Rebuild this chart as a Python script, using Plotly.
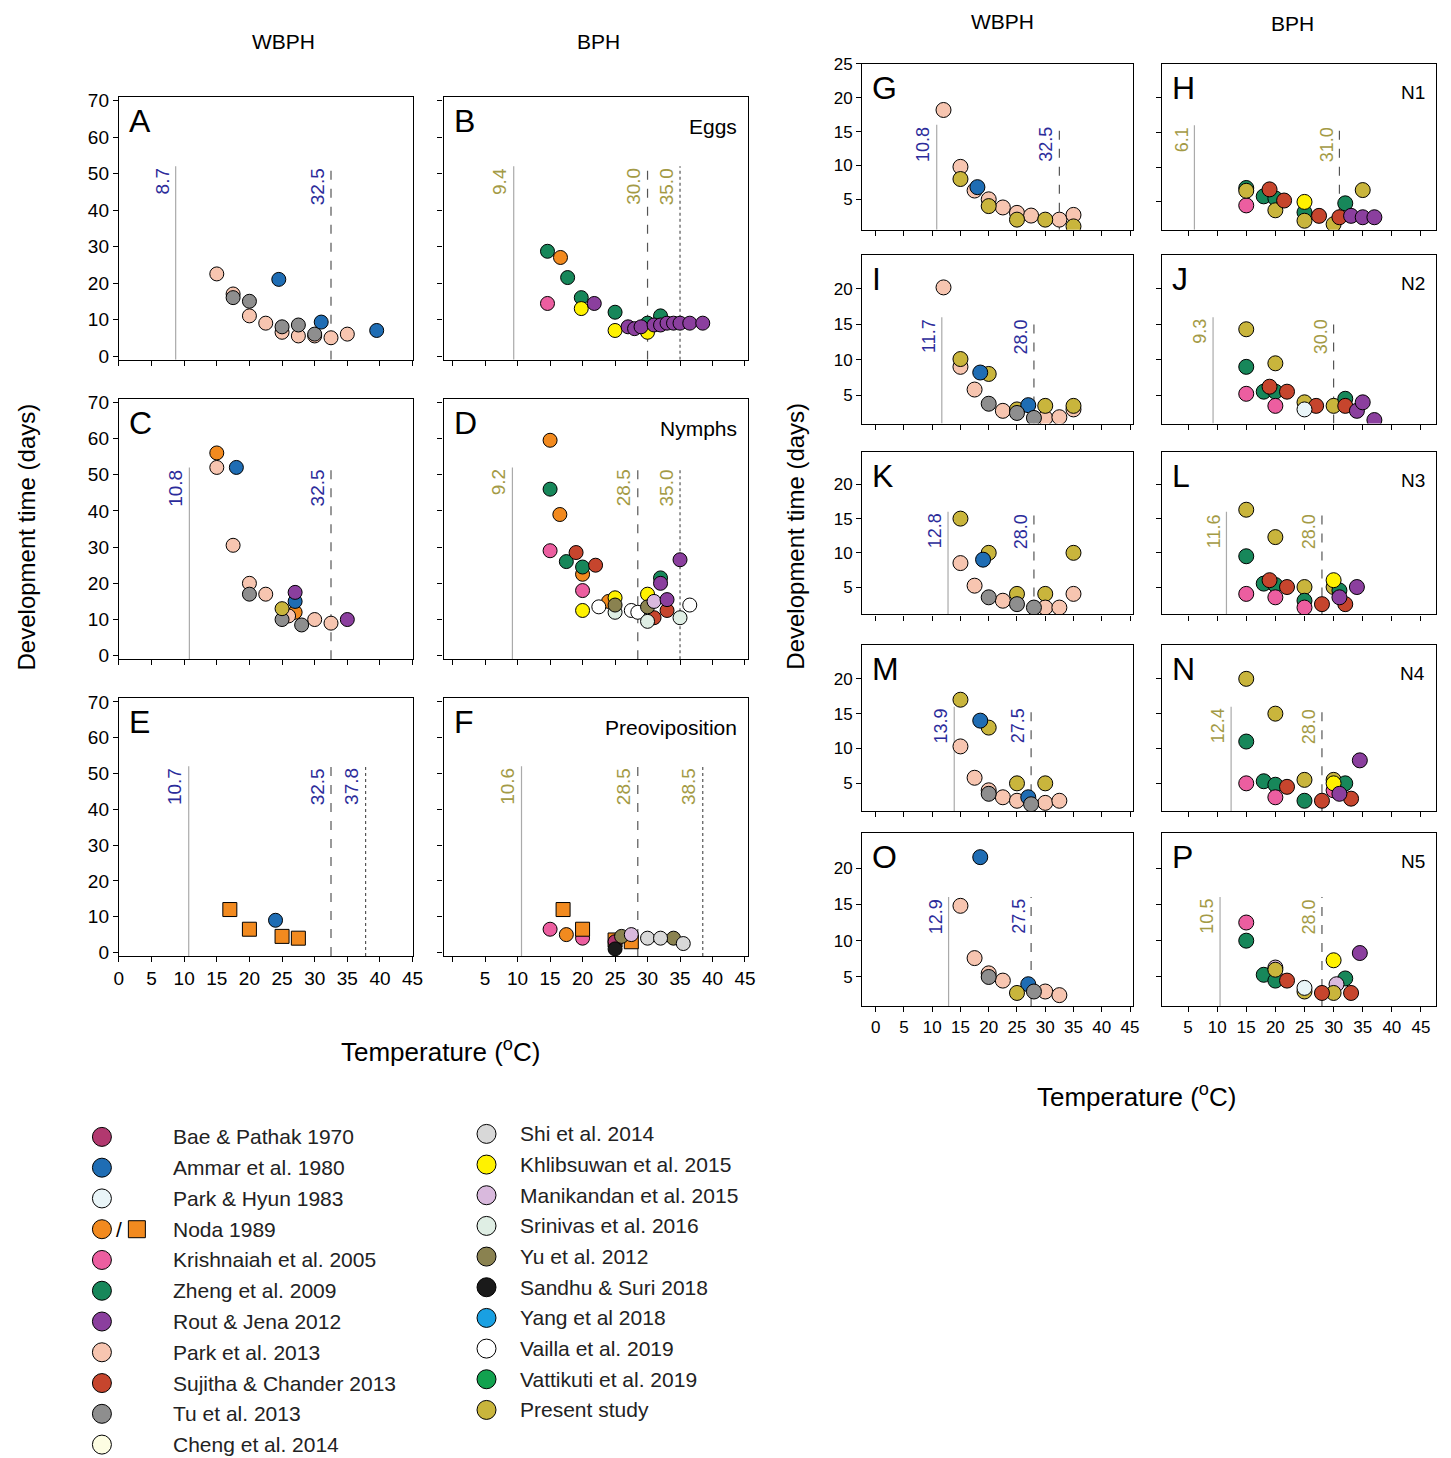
import plotly.graph_objects as go

W, H = 1451, 1458
FONT = "Liberation Sans, Arial, sans-serif"
BLUE_T = "#2b2b9a"
OLIVE_T = "#a39a45"

series_names = ["Bae & Pathak 1970", "Ammar et al. 1980", "Park & Hyun 1983", "Noda 1989",
                "Krishnaiah et al. 2005", "Zheng et al. 2009", "Rout & Jena 2012", "Park et al. 2013",
                "Sujitha & Chander 2013", "Tu et al. 2013", "Cheng et al. 2014",
                "Shi et al. 2014", "Khlibsuwan et al. 2015", "Manikandan et al. 2015", "Srinivas et al. 2016",
                "Yu et al. 2012", "Sandhu & Suri 2018", "Yang et al 2018", "Vailla et al. 2019",
                "Vattikuti et al. 2019", "Present study"]
series_keys = ["bae", "ammar", "hyun", "noda", "krish", "zheng", "rout", "park", "suj", "tu", "cheng",
               "shi", "khl", "mani", "sri", "yu", "sandhu", "yang", "vailla", "vatt", "present"]
series_colors = ["#b2386f", "#1f6db4", "#e9f5f8", "#f28a1f", "#ec5ea0", "#17875a", "#8b3f9e", "#f7c5b0",
                 "#c6452d", "#8e8e8e", "#fdfde2", "#d8d8d8", "#fff200", "#d9b9dd", "#dfeee4",
                 "#8a8250", "#1a1a1a", "#19a0e2", "#ffffff", "#12a24f", "#c9b53c"]
COL = dict(zip(series_keys, series_colors))

# panel data: (series, temperature, days[, "sq"])
pA = [("park", 15, 22.5), ("park", 17.5, 17), ("park", 20, 11), ("park", 22.5, 9), ("park", 25, 6.5),
      ("park", 27.5, 5.5), ("park", 30, 5.5), ("park", 32.5, 5), ("park", 35, 6),
      ("tu", 17.5, 16), ("tu", 20, 15), ("tu", 25, 8), ("tu", 27.5, 8.5), ("tu", 30, 6),
      ("ammar", 24.5, 21), ("ammar", 31, 9.3), ("ammar", 39.5, 7)]
pB = [("zheng", 14.6, 28.7), ("noda", 16.6, 27), ("zheng", 17.7, 21.5), ("krish", 14.6, 14.4),
      ("zheng", 19.8, 16), ("khl", 19.8, 13), ("rout", 21.8, 14.4), ("zheng", 25, 12), ("khl", 25, 7),
      ("rout", 27, 8), ("rout", 28, 7.5), ("rout", 29, 8), ("rout", 31, 8.5), ("rout", 32, 8.5),
      ("rout", 33, 9), ("rout", 34, 9), ("rout", 35, 9), ("rout", 36.5, 9), ("rout", 38.5, 9),
      ("zheng", 32, 11), ("zheng", 30, 9), ("khl", 30, 6.5)]
pC = [("noda", 15, 56), ("park", 15, 52), ("ammar", 18, 52), ("park", 17.5, 30.5), ("park", 20, 20),
      ("tu", 20, 17), ("park", 22.5, 17), ("rout", 27, 17.5), ("ammar", 27, 15), ("present", 25, 13),
      ("tu", 25, 10), ("noda", 27, 12), ("park", 26, 11), ("park", 30, 10), ("tu", 28, 8.5),
      ("park", 32.5, 9), ("rout", 35, 10)]
pD = [("noda", 15, 59.5), ("zheng", 15, 46), ("noda", 16.5, 39), ("krish", 15, 29), ("suj", 19, 28.5),
      ("zheng", 17.5, 26), ("noda", 20, 22.5), ("zheng", 20, 24.5), ("suj", 22, 25), ("krish", 20, 18),
      ("khl", 20, 12.5), ("vailla", 22.5, 13.5), ("noda", 24, 15), ("khl", 25, 16), ("sri", 25, 12),
      ("yu", 25, 14), ("vailla", 27.5, 12.5), ("vailla", 28.5, 12), ("khl", 30, 17), ("sri", 30, 9.5),
      ("yu", 30, 13.5), ("suj", 31, 10.5), ("mani", 31, 15), ("rout", 32, 20), ("zheng", 32, 21.5),
      ("rout", 33, 15.5), ("suj", 33, 12.5), ("rout", 35, 26.5), ("sri", 35, 10.5), ("vailla", 36.5, 14)]
pE = [("noda", 17, 12, "sq"), ("noda", 20, 6.5, "sq"), ("noda", 25, 4.5, "sq"), ("noda", 27.5, 4, "sq"),
      ("ammar", 24, 9)]
pF = [("krish", 15, 6.5), ("noda", 17, 12, "sq"), ("noda", 17.5, 5), ("noda", 20, 6.5, "sq"),
      ("krish", 20, 4), ("bae", 25, 3), ("noda", 25, 3.5, "sq"), ("yu", 26, 4.5), ("noda", 27.5, 3, "sq"),
      ("mani", 27.5, 5), ("shi", 30, 4), ("shi", 32, 4), ("yu", 34, 4), ("shi", 35.5, 2.5),
      ("sandhu", 25, 1)]
pG = [("park", 12, 18.2), ("park", 15, 9.8), ("present", 15, 8), ("ammar", 18, 6.8), ("park", 17.5, 6.3),
      ("park", 20, 5), ("present", 20, 4), ("park", 22.5, 3.8), ("park", 25, 3), ("present", 25, 2),
      ("park", 27.5, 2.6), ("present", 30, 2), ("park", 32.5, 2), ("park", 35, 2.7), ("present", 35, 1)]
pH = [("krish", 15, 4.5), ("zheng", 15, 7), ("present", 15, 6.6), ("suj", 19, 6.8), ("zheng", 18, 5.8),
      ("zheng", 20, 5.5), ("present", 20, 3.8), ("suj", 21.5, 5.2), ("khl", 25, 5), ("zheng", 25, 3.5),
      ("present", 25, 2.3), ("suj", 27.5, 3), ("present", 30, 1.8), ("zheng", 32, 4.8), ("suj", 31, 2.8),
      ("rout", 33, 3), ("rout", 35, 2.8), ("rout", 37, 2.8), ("present", 35, 6.7)]
pI = [("park", 12, 20.2), ("present", 15, 10.1), ("park", 15, 9), ("ammar", 18.5, 8.2), ("present", 20, 8),
      ("park", 17.5, 5.8), ("tu", 20, 3.8), ("park", 22.5, 2.8), ("tu", 25, 2.5), ("present", 25, 3),
      ("ammar", 27, 3.6), ("tu", 28, 1.8), ("present", 30, 3.5), ("park", 30, 1.8), ("park", 32.5, 1.9),
      ("park", 35, 3), ("present", 35, 3.5)]
pJ = [("present", 15, 14.3), ("zheng", 15, 9), ("krish", 15, 5.2), ("present", 20, 9.5), ("suj", 19, 6.2),
      ("zheng", 18, 5.5), ("krish", 20, 3.5), ("zheng", 20, 5.5), ("suj", 22, 5.5), ("hyun", 25, 3),
      ("present", 25, 4), ("suj", 27, 3.5), ("present", 30, 3.5), ("zheng", 32, 4.5), ("suj", 32, 3.5),
      ("rout", 34, 2.8), ("rout", 35, 4), ("rout", 37, 1.5)]
pK = [("present", 15, 15), ("park", 15, 8.5), ("ammar", 19, 9), ("present", 20, 10), ("park", 17.5, 5.2),
      ("tu", 20, 3.5), ("park", 22.5, 3), ("tu", 25, 2.5), ("present", 25, 4), ("tu", 28, 2),
      ("present", 30, 4), ("park", 30, 2), ("park", 32.5, 2), ("park", 35, 4), ("present", 35, 10)]
pL = [("present", 15, 16.3), ("zheng", 15, 9.5), ("krish", 15, 4), ("present", 20, 12.3), ("suj", 19, 6),
      ("zheng", 18, 5.5), ("zheng", 20, 5.3), ("krish", 20, 3.5), ("suj", 22, 5), ("present", 25, 5),
      ("zheng", 25, 3), ("krish", 25, 2), ("suj", 28, 2.5), ("khl", 30, 6), ("present", 30, 5),
      ("rout", 31, 3.5), ("zheng", 31, 4.5), ("suj", 32, 2.5), ("rout", 34, 5)]
pM = [("present", 15, 17), ("park", 15, 10.3), ("ammar", 18.5, 14), ("present", 20, 13), ("park", 17.5, 5.8),
      ("park", 20, 4), ("tu", 20, 3.5), ("park", 22.5, 3), ("park", 25, 2.5), ("present", 25, 5),
      ("ammar", 27, 3), ("tu", 27.5, 2), ("present", 30, 5), ("park", 30, 2.2), ("park", 32.5, 2.5)]
pN = [("present", 15, 20), ("zheng", 15, 11), ("krish", 15, 5), ("present", 20, 15), ("zheng", 18, 5.3),
      ("zheng", 20, 4.8), ("krish", 20, 3), ("suj", 22, 4.5), ("present", 25, 5.5), ("zheng", 25, 2.5),
      ("suj", 28, 2.5), ("present", 30, 5.5), ("khl", 30, 5), ("krish", 30, 4), ("rout", 31, 3.5),
      ("zheng", 32, 5), ("suj", 33, 2.8), ("rout", 34.5, 8.3)]
pO = [("ammar", 18.5, 21.5), ("park", 15, 14.8), ("park", 17.5, 7.6), ("park", 20, 5.5), ("tu", 20, 5),
      ("park", 22.5, 4.5), ("present", 25, 2.8), ("ammar", 27, 4), ("tu", 28, 3), ("park", 30, 3),
      ("park", 32.5, 2.5)]
pP = [("krish", 15, 12.5), ("zheng", 15, 10), ("zheng", 18, 5.3), ("mani", 20, 6.3), ("present", 20, 6),
      ("krish", 20, 5), ("zheng", 20, 4.5), ("suj", 22, 4.5), ("hyun", 25, 3.5), ("present", 25, 3),
      ("suj", 28, 2.8), ("khl", 30, 7.3), ("mani", 30.5, 4), ("present", 30, 2.8), ("zheng", 32, 4.8),
      ("suj", 33, 2.8), ("rout", 34.5, 8.3)]

thresholds = {
    "A": [(8.7, "solid"), (32.5, "dash")], "B": [(9.4, "solid"), (30.0, "dash"), (35.0, "dot")],
    "C": [(10.8, "solid"), (32.5, "dash")], "D": [(9.2, "solid"), (28.5, "dash"), (35.0, "dot")],
    "E": [(10.7, "solid"), (32.5, "dash"), (37.8, "dot")], "F": [(10.6, "solid"), (28.5, "dash"), (38.5, "dot")],
    "G": [(10.8, "solid"), (32.5, "dash")], "H": [(6.1, "solid"), (31.0, "dash")],
    "I": [(11.7, "solid"), (28.0, "dash")], "J": [(9.3, "solid"), (30.0, "dash")],
    "K": [(12.8, "solid"), (28.0, "dash")], "L": [(11.6, "solid"), (28.0, "dash")],
    "M": [(13.9, "solid"), (27.5, "dash")], "N": [(12.4, "solid"), (28.0, "dash")],
    "O": [(12.9, "solid"), (27.5, "dash")], "P": [(10.5, "solid"), (28.0, "dash")],
}
stage_labels = {"B": "Eggs", "D": "Nymphs", "F": "Preoviposition", "H": "N1", "J": "N2", "L": "N3",
                "N": "N4", "P": "N5"}

# panel boxes in pixels: letter -> (x0, x1, y0, y1, data, wbph, big)
panels = {
    "A": (118, 412, 95, 358, pA, True, True), "B": (443, 748, 95, 358, pB, False, True),
    "C": (118, 412, 397, 658, pC, True, True), "D": (443, 748, 397, 658, pD, False, True),
    "E": (118, 412, 697, 955, pE, True, True), "F": (443, 748, 697, 955, pF, False, True),
    "G": (862, 1133, 62, 228, pG, True, False), "H": (1162, 1436, 62, 228, pH, False, False),
    "I": (862, 1133, 253, 422, pI, True, False), "J": (1162, 1436, 253, 422, pJ, False, False),
    "K": (862, 1133, 450, 613, pK, True, False), "L": (1162, 1436, 450, 613, pL, False, False),
    "M": (862, 1133, 644, 810, pM, True, False), "N": (1162, 1436, 644, 810, pN, False, False),
    "O": (862, 1133, 832, 1005, pO, True, False), "P": (1162, 1436, 832, 1005, pP, False, False),
}
bottom_row = {"E", "F", "O", "P"}


# pixel -> paper, with a small correction for the page offset
def PX(px):
    return (px - 12) / 0.99 / W


def PY(py):
    return 1 - (py - 15) / 0.99 / H


fig = go.Figure()


def ax_names(i):
    s = "" if i == 1 else str(i)
    return "xaxis" + s, "yaxis" + s, "x" + s, "y" + s


for i, (L, (x0, x1, y0, y1, data, wbph, big)) in enumerate(panels.items(), start=1):
    xa, ya, xr, yr = ax_names(i)
    if big:
        xrange = [0, 45] if wbph else [-1.4, 45.5]
        yrange, ytick, ytop = [-1, 71], list(range(0, 71, 10)), 52
    else:
        xrange = [-2.4, 45.5] if wbph else [0.5, 47.5]
        if L == "G":
            yrange, ytick = [0.5, 25], [5, 10, 15, 20, 25]
        else:
            yrange, ytick = [1, 24.8], [5, 10, 15, 20]
        ytop = 16
    xticks = list(range(0, 46, 5))
    xlabels = [str(v) if (L in bottom_row and (wbph or v > 0)) else " " for v in xticks]
    ylabels = [str(v) for v in ytick] if wbph else [" " for _ in ytick]
    common = dict(showline=True, linecolor="black", linewidth=1.2, mirror=True, showgrid=False,
                  zeroline=False, ticks="outside", ticklen=5, tickcolor="black",
                  tickfont=dict(size=19 if big else 17, family=FONT, color="black"))
    fig.layout[xa] = dict(domain=[PX(x0), PX(x1)], range=xrange, anchor=yr, tickmode="array",
                          tickvals=xticks, ticktext=xlabels, **common)
    fig.layout[ya] = dict(domain=[PY(y1), PY(y0)], range=yrange, anchor=xr, tickmode="array",
                          tickvals=ytick, ticktext=ylabels, **common)

    tcol = BLUE_T if wbph else OLIVE_T
    for val, dash in thresholds[L]:
        fig.add_trace(go.Scatter(x=[val, val], y=[yrange[0], ytop], mode="lines", xaxis=xr, yaxis=yr,
                                 line=dict(color="#555555" if dash != "solid" else "#aaaaaa",
                                           width=1.2, dash=dash), showlegend=False, hoverinfo="skip"))
        fig.add_annotation(x=val, y=ytop, xref=xr, yref=yr, text=f"{val:.1f}", textangle=-90,
                           xanchor="right", yanchor="top", xshift=-1, showarrow=False,
                           font=dict(size=19 if big else 18, color=tcol, family=FONT))

    for key in dict.fromkeys(p[0] for p in data):
        for sym in ("circle", "square"):
            pts = [p for p in data if p[0] == key and (("sq" in p[3:]) == (sym == "square"))]
            if not pts:
                continue
            fig.add_trace(go.Scatter(x=[p[1] for p in pts], y=[p[2] for p in pts], mode="markers",
                                     xaxis=xr, yaxis=yr, showlegend=False,
                                     marker=dict(symbol=sym, size=14 if big else 15, color=COL[key],
                                                 line=dict(color="black", width=1))))

    fig.add_annotation(x=PX(x0 + 8), y=PY(y0 + 4), xref="paper", yref="paper", text=L,
                       xanchor="left", yanchor="top", showarrow=False,
                       font=dict(size=32, family=FONT, color="black"))
    if L in stage_labels:
        fig.add_annotation(x=PX(x1 - 9), y=PY(y0 + 16), xref="paper", yref="paper",
                           text=stage_labels[L], xanchor="right", yanchor="top", showarrow=False,
                           font=dict(size=21 if big else 19, family=FONT, color="black"))


def legend_mark(px, py, color, kind="circle", size=19):
    fig.add_shape(type=kind, xref="paper", yref="paper", xsizemode="pixel", ysizemode="pixel",
                  xanchor=PX(px), yanchor=PY(py), x0=-size / 2, x1=size / 2, y0=-size / 2, y1=size / 2,
                  fillcolor=color, line=dict(color="black", width=1))


left_n = 11
for k, name in enumerate(series_names):
    if k < left_n:
        mx, tx, yy = 101, 170, 1136 + k * 30.8
    else:
        mx, tx, yy = 486, 518, 1133 + (k - left_n) * 30.7
    key = series_keys[k]
    legend_mark(mx, yy, COL[key])
    if key == "noda":
        legend_mark(136, yy, COL[key], "rect", 17)
        fig.add_annotation(x=PX(118), y=PY(yy), xref="paper", yref="paper", text="/", showarrow=False,
                           xanchor="center", yanchor="middle", font=dict(size=21, family=FONT, color="black"))
    fig.add_annotation(x=PX(tx), y=PY(yy), xref="paper", yref="paper", text=name, xanchor="left",
                       yanchor="middle", showarrow=False, font=dict(size=21, family=FONT, color="#222222"))


def ptext(px, py, text, size=21, angle=0):
    fig.add_annotation(x=PX(px), y=PY(py), xref="paper", yref="paper", text=text, textangle=angle,
                       xanchor="center", yanchor="middle", showarrow=False,
                       font=dict(size=size, family=FONT, color="black"))


ptext(283, 40, "WBPH")
ptext(598, 40, "BPH")
ptext(1003, 20, "WBPH")
ptext(1293, 22, "BPH")
ptext(26, 535, "Development time (days)", 24, -90)
ptext(795, 535, "Development time (days)", 24, -90)
ptext(440, 1050, "Temperature (<sup>o</sup>C)", 26)
ptext(1137, 1095, "Temperature (<sup>o</sup>C)", 26)

fig.update_layout(width=W, height=H, margin=dict(l=0, r=0, t=0, b=0), plot_bgcolor="white",
                  paper_bgcolor="white", showlegend=False, font=dict(family=FONT))
fig.write_html("out.html")
